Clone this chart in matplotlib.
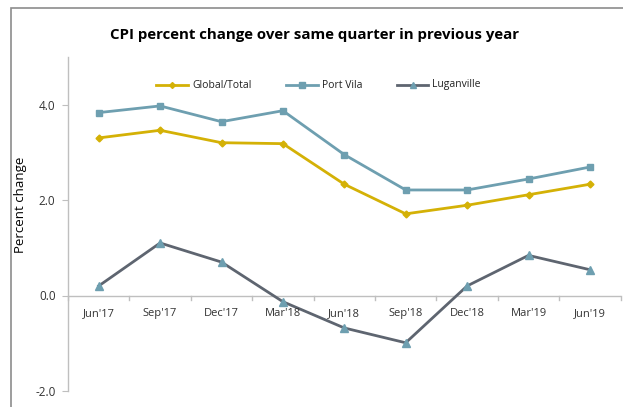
import matplotlib
matplotlib.use("Agg")
import matplotlib.pyplot as plt
from matplotlib.patches import Rectangle
from matplotlib.lines import Line2D

categories = ["Jun'17", "Sep'17", "Dec'17", "Mar'18", "Jun'18", "Sep'18", "Dec'18", "Mar'19", "Jun'19"]
global_total = [3.30, 3.46, 3.20, 3.18, 2.33, 1.71, 1.89, 2.11, 2.33]
port_vila = [3.83, 3.97, 3.64, 3.87, 2.95, 2.21, 2.21, 2.44, 2.69]
luganville = [0.20, 1.10, 0.70, -0.13, -0.68, -0.99, 0.20, 0.84, 0.54]
yticks = [-2.0, 0.0, 2.0, 4.0]
series_names = ['Global/Total', 'Port Vila', 'Luganville']

plt.rcParams['font.family'] = ['Open Sans', 'DejaVu Sans']

W, H = 623, 407
fig = plt.figure(figsize=(W/100, H/100), dpi=100)

# outer chart border
fig.patches.append(Rectangle((11/W, -0.1), 1.2, (H-8)/H + 0.1, transform=fig.transFigure,
                             fill=False, edgecolor='#8c8c8c', linewidth=1.2))

left, right = 68/W, 620.6/W
bottom, top = (H-391)/H, (H-56.75)/H
ax = fig.add_axes([left, bottom, right-left, top-bottom])
ax.set_facecolor('none')

x = list(range(len(categories)))
c_gold = '#D4B106'
c_teal = '#6E9FB0'
c_gray = '#5E6570'

ax.plot(x, global_total, color=c_gold, lw=2, marker='D', ms=3.5, mfc=c_gold, mec=c_gold, zorder=3)
ax.plot(x, port_vila, color=c_teal, lw=2, marker='s', ms=5, mfc=c_teal, mec=c_teal, zorder=3)
ax.plot(x, luganville, color=c_gray, lw=2, marker='^', ms=6, mfc=c_teal, mec=c_teal, zorder=3)

ax.set_xlim(-0.5, len(categories)-0.5)
ax.set_ylim(-2, 5)
ax.set_yticks(yticks)
ax.set_yticklabels([f"{v:.1f}" for v in yticks], fontsize=8.5, color='#333333')
ax.tick_params(axis='y', length=4, color='#BFBFBF', pad=5)
ax.set_xticks([])

for s in ['top', 'right', 'bottom']:
    ax.spines[s].set_visible(False)
ax.spines['left'].set_color('#BFBFBF')
ax.spines['left'].set_linewidth(1)

# category axis at y=0
ax.axhline(0, color='#BFBFBF', lw=1, zorder=1)
for i in range(len(categories)+1):
    ax.plot([i-0.5, i-0.5], [0, -0.1], color='#BFBFBF', lw=1, zorder=1, clip_on=False)
for i, c in enumerate(categories):
    ax.text(i, -0.27, c, ha='center', va='top', fontsize=8, color='#333333')

ax.set_ylabel('Percent change', fontsize=9.5, color='#000000')
ax.yaxis.set_label_coords((27-68)/(620.6-68), (391-205)/(391-56.75))

fig.text(314/W, (H-35)/H, 'CPI percent change over same quarter in previous year',
         ha='center', va='center', fontsize=10.8, fontweight='bold')

# legend (manual placement)
leg_y = (H-85)/H
entries = [(156, 188, c_gold, 'D', 3, c_gold),
           (286, 318, c_teal, 's', 4.5, c_teal),
           (397, 428, c_gray, '^', 4.5, c_teal)]
for (x0, x1, col, mk, ms, mc), name in zip(entries, series_names):
    fig.add_artist(Line2D([x0/W, x1/W], [leg_y, leg_y], color=col, lw=2, transform=fig.transFigure))
    fig.add_artist(Line2D([(x0+x1)/2/W], [leg_y], marker=mk, ms=ms, mfc=mc, mec=mc,
                          linestyle='none', transform=fig.transFigure))
    fig.text((x1+4)/W, leg_y, name, ha='left', va='center', fontsize=7.5, color='#222222')

fig.savefig('out.png', dpi=100)
